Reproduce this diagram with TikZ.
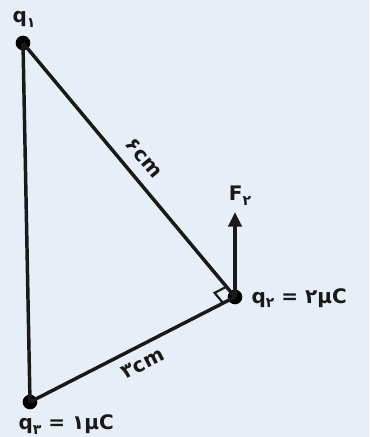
\documentclass[tikz,border=0pt]{standalone}
\usepackage{fontspec}
\setmainfont{DejaVu Sans}
\newfontfamily\fa[Script=Arabic]{DejaVu Sans}
\usetikzlibrary{calc,arrows.meta}
\definecolor{bgc}{HTML}{E8EEF7}
\newcommand{\sbs}[1]{\raisebox{-3.5pt}{\fa\fontsize{10.5}{12}\selectfont #1}}
\tikzset{
  lbl/.style={font=\bfseries\fontsize{15}{17}\selectfont, inner sep=1pt, text=black!90},
  side/.style={line width=2.6pt, black!90},
  charge/.style={circle, fill=black, inner sep=0pt, minimum size=11pt},
}
\begin{document}
\begin{tikzpicture}[x=0.75pt,y=-0.75pt]
\fill[bgc] (0,0) rectangle (369,437);
\useasboundingbox (0,0) rectangle (369,437);
\node[charge] (q1) at (23,43) {};
\node[charge] (q2) at (235,297) {};
\node[charge] (q3) at (30,402) {};
\draw[side] (q1.center) -- (q3.center);
\draw[side] (q1.center) -- (q2.center);
\draw[side] (q3.center) -- (q2.center);
% right angle marker
\coordinate (ra) at ($(q2)!10pt!(q1)$);
\coordinate (rb) at ($(q2)!10pt!(q3)$);
\draw[line width=1.6pt, black!90] (ra) -- ($(ra)+(rb)-(q2)$) -- (rb);
% force
\coordinate (ftip) at (235,212);
\draw[line width=2.6pt, black!90, -{Triangle[length=11pt,width=10pt]}] (q2.center) -- (ftip);
\node[lbl, anchor=south] (fl) at (240,207) {F\sbs{۲}};
% labels
\node[lbl, anchor=south] (l1) at (24,29) {q\sbs{۱}};
\node[lbl, anchor=west] (l2) at (250,298) {q\sbs{۲} = {\fa ۲}μC};
\node[lbl, anchor=north west] (l3) at (17,413) {q\sbs{۳} = {\fa ۱}μC};
\node[lbl, rotate=-50.3] (s1) at (144,158) {\fa ۶cm};
\node[lbl, rotate=27.2] (s2) at (143,364) {\fa ۳cm};
\end{tikzpicture}
\end{document}
